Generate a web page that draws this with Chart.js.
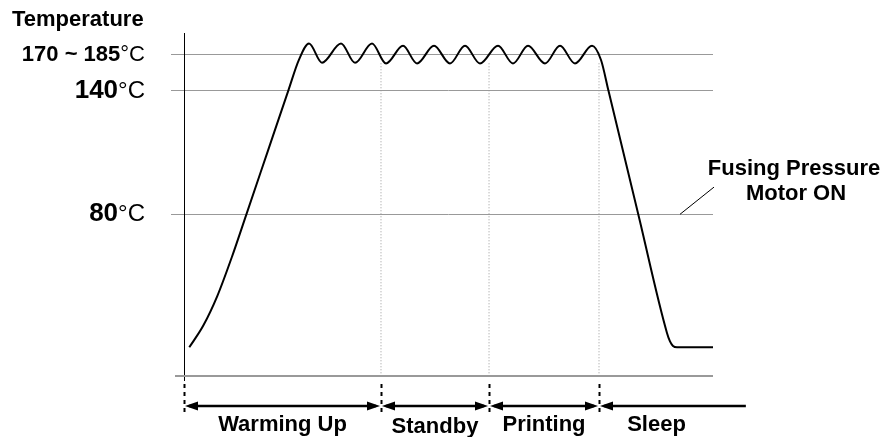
<!DOCTYPE html>
<html>
<head>
<meta charset="utf-8">
<script src="https://cdn.jsdelivr.net/npm/chart.js@4.4.1/dist/chart.umd.min.js"></script>
<style>
  html, body { margin: 0; padding: 0; background: #fff; }
  #wrap { width: 882px; height: 437px; position: relative; }
</style>
</head>
<body>
<div id="wrap"><canvas id="fuserChart"></canvas></div>
<script>
// ---------------------------------------------------------------
//  data (schematic units: x = time 0..100, y = temperature scale)
// ---------------------------------------------------------------
const curveX = [1.0, 3.65, 6.29, 9.07, 11.81, 15.78, 19.75, 21.74,
  23.63, 26.09, 29.68, 32.33, 35.54, 38.19, 41.40, 44.05, 47.26, 50.28,
  53.12, 55.95, 59.36, 62.19, 65.03, 68.24, 71.08, 73.91, 77.13,
  78.83, 80.21, 85.86, 91.30, 91.87, 92.44, 93.19, 100];
const curveY = [15.45, 26.0, 40.3, 59.4, 80.1, 110.2, 140.3, 155.1,
  162.9, 153.6, 162.9, 153.5, 162.9, 153.2, 161.8, 153.2, 161.8, 153.2,
  161.8, 153.2, 161.8, 153.2, 161.8, 153.2, 161.8, 153.2, 161.8,
  154.9, 140.3, 80.1, 22.4, 18.3, 16.1, 15.45, 15.45];

const tempTicks = [80, 140, 157.4];
const tempTickNums = ['80', '140', '170 ~ 185'];
const tempUnit = '°C';
const axisTitle = 'Temperature';

const phaseNames = ['Warming Up', 'Standby', 'Printing', 'Sleep'];
const phaseEdges = [0, 37.24, 57.66, 78.45, 106.4];
const plateauLow = 153.3;

const noteLines = ['Fusing Pressure', 'Motor ON'];
const notePoint = [93.76, 80];
const noteEnd = [100, 93.2];

// styles (kept apart from data)
const tickNumSize = [26, 26, 22];
const tickUnitSize = [24, 24, 22];
const FONT = '"Liberation Sans", Arial, sans-serif';

// ---------------------------------------------------------------
//  datasets
// ---------------------------------------------------------------
const datasets = [{
  data: curveX.map((v, i) => ({ x: v, y: curveY[i] })),
  borderColor: '#000', borderWidth: 2, pointRadius: 0,
  cubicInterpolationMode: 'monotone', fill: false
}];
// dotted phase boundaries inside the plot
for (let i = 1; i < phaseEdges.length - 1; i++) {
  datasets.push({
    data: [{ x: phaseEdges[i], y: plateauLow }, { x: phaseEdges[i], y: 2 }],
    borderColor: '#999', borderWidth: 1, borderDash: [1, 2],
    pointRadius: 0, tension: 0
  });
}

function line(ctx, x1, y1, x2, y2) {
  ctx.beginPath(); ctx.moveTo(x1, y1); ctx.lineTo(x2, y2); ctx.stroke();
}

function arrowHead(ctx, tipX, y, dir) {
  ctx.beginPath();
  ctx.moveTo(tipX, y);
  ctx.lineTo(tipX + dir * 13, y - 4.5);
  ctx.lineTo(tipX + dir * 13, y + 4.5);
  ctx.closePath();
  ctx.fill();
}

const decor = {
  id: 'decor',
  afterDraw(chart) {
    const { ctx, chartArea: a, scales: { x, y } } = chart;
    ctx.save();

    // axes
    ctx.strokeStyle = '#000'; ctx.lineWidth = 1;
    line(ctx, a.left + 0.5, a.top, a.left + 0.5, a.bottom + 6);
    ctx.strokeStyle = '#999'; ctx.lineWidth = 2;
    line(ctx, a.left - 9, a.bottom + 1, a.right, a.bottom + 1);

    // y labels
    ctx.fillStyle = '#000';
    ctx.textBaseline = 'alphabetic';
    ctx.textAlign = 'left';
    const labelRight = a.left - 39;
    tempTicks.forEach((v, i) => {
      const base = y.getPixelForValue(v) + tickNumSize[i] * 0.27;
      ctx.font = `bold ${tickNumSize[i]}px ${FONT}`;
      const w1 = ctx.measureText(tempTickNums[i]).width;
      ctx.font = `${tickUnitSize[i]}px ${FONT}`;
      const w2 = ctx.measureText(tempUnit).width;
      const left = labelRight - w1 - w2;
      ctx.font = `bold ${tickNumSize[i]}px ${FONT}`;
      ctx.fillText(tempTickNums[i], left, base);
      ctx.font = `${tickUnitSize[i]}px ${FONT}`;
      ctx.fillText(tempUnit, left + w1, base);
    });
    ctx.font = `bold 22px ${FONT}`;
    ctx.fillText(axisTitle, 12, 26);

    // phase markers below the axis
    ctx.strokeStyle = '#000'; ctx.lineWidth = 2;
    ctx.setLineDash([4, 4]);
    for (let i = 0; i < phaseEdges.length - 1; i++) {
      const px = Math.round(x.getPixelForValue(phaseEdges[i])) + 0.5;
      line(ctx, px, a.bottom + 9, px, a.bottom + 38);
    }
    ctx.setLineDash([]);

    const ay = a.bottom + 31;
    ctx.lineWidth = 2.5;
    ctx.textAlign = 'center';
    phaseNames.forEach((name, i) => {
      const x1 = x.getPixelForValue(phaseEdges[i]) + 1;
      const x2 = x.getPixelForValue(phaseEdges[i + 1]) - 1;
      line(ctx, x1 + 4, ay, x2 - (i < phaseNames.length - 1 ? 4 : 0), ay);
      arrowHead(ctx, x1, ay, 1);
      if (i < phaseNames.length - 1) arrowHead(ctx, x2, ay, -1);
      const right = Math.min(x2, a.right);
      ctx.font = `bold 22px ${FONT}`;
      ctx.fillText(name, (x1 + right) / 2, ay + 25 + (name === 'Standby' ? 2 : 0));
    });

    // note with leader line
    const nx1 = x.getPixelForValue(notePoint[0]), ny1 = y.getPixelForValue(notePoint[1]);
    const nx2 = x.getPixelForValue(noteEnd[0]) + 1, ny2 = y.getPixelForValue(noteEnd[1]);
    ctx.lineWidth = 1;
    line(ctx, nx1, ny1, nx2, ny2);
    ctx.font = `bold 22px ${FONT}`;
    ctx.fillText(noteLines[0], nx2 + 80, ny2 - 12);
    ctx.fillText(noteLines[1], nx2 + 82, ny2 + 13);

    ctx.restore();
  }
};

new Chart(document.getElementById('fuserChart'), {
  type: 'line',
  data: { datasets },
  options: {
    responsive: true, maintainAspectRatio: false, animation: false,
    layout: { padding: { left: 171, top: 33, right: 169, bottom: 62 } },
    plugins: { legend: { display: false }, tooltip: { enabled: false } },
    scales: {
      x: { type: 'linear', display: false, min: 0, max: 100 },
      y: {
        type: 'linear', min: 2, max: 168,
        afterBuildTicks: (s) => { s.ticks = tempTicks.map(v => ({ value: v })); },
        ticks: { display: false },
        border: { display: false },
        grid: { color: '#999', lineWidth: 1, tickLength: 13, drawTicks: true }
      }
    }
  },
  plugins: [decor]
});
</script>
</body>
</html>
